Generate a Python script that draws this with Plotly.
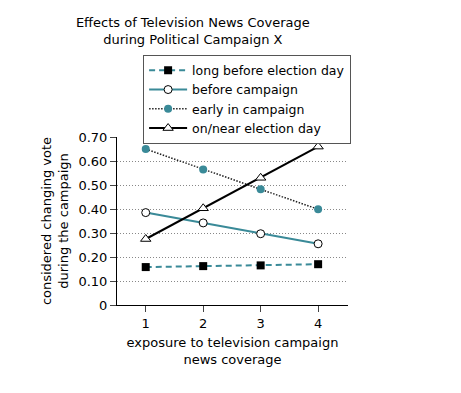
import plotly.graph_objects as go

exposure = [1, 2, 3, 4]
long_before = [0.158, 0.162, 0.165, 0.170]
before_campaign = [0.385, 0.342, 0.297, 0.255]
early_campaign = [0.650, 0.565, 0.482, 0.399]
near_election = [0.275, 0.403, 0.530, 0.660]
y_ticks = [0, 0.1, 0.2, 0.3, 0.4, 0.5, 0.6, 0.7]
y_tick_labels = ["0", "0.10", "0.20", "0.30", "0.40", "0.50", "0.60", "0.70"]

TEAL = "#3a8a98"
FONT = "DejaVu Sans"

fig = go.Figure()
fig.add_trace(go.Scatter(x=exposure, y=long_before, name="long before election day",
                         mode="lines+markers",
                         line=dict(color=TEAL, width=2, dash="6px,4px"),
                         marker=dict(symbol="square", size=8, color="black")))
fig.add_trace(go.Scatter(x=exposure, y=before_campaign, name="before campaign",
                         mode="lines+markers",
                         line=dict(color=TEAL, width=2),
                         marker=dict(symbol="circle", size=8, color="white",
                                     line=dict(color="black", width=1))))
fig.add_trace(go.Scatter(x=exposure, y=early_campaign, name="early in campaign",
                         mode="lines+markers",
                         line=dict(color="#222222", width=1.5, dash="1.5px,1.5px"),
                         marker=dict(symbol="circle", size=8, color=TEAL)))
fig.add_trace(go.Scatter(x=exposure, y=near_election, name="on/near election day",
                         mode="lines+markers",
                         line=dict(color="black", width=2),
                         marker=dict(symbol="triangle-up", size=9, color="white",
                                     line=dict(color="black", width=1))))

fig.update_layout(
    width=453, height=385,
    margin=dict(l=109, r=113, t=129, b=88),
    paper_bgcolor="white", plot_bgcolor="white",
    font=dict(family=FONT, size=12, color="black"),
    title=dict(text="Effects of Television News Coverage<br>during Political Campaign X",
               x=0.408, xanchor="center", y=0.95, yanchor="top",
               font=dict(size=13)),
    showlegend=True,
    legend=dict(x=0.113, xanchor="left", y=1.49, yanchor="top",
                bordercolor="#555555", borderwidth=1, bgcolor="white",
                font=dict(size=12.5), tracegroupgap=0, itemwidth=38),
    xaxis=dict(range=[0.5, 4.52], tickvals=exposure, ticks="outside", ticklen=6,
               showline=True, linecolor="black", linewidth=1, showgrid=False,
               zeroline=False, tickfont=dict(size=13),
               title=dict(text="exposure to television campaign<br>news coverage",
                          font=dict(size=13), standoff=8)),
    yaxis=dict(range=[0, 0.70], tickvals=y_ticks, ticktext=y_tick_labels,
               ticks="outside", ticklen=6, showline=True, linecolor="black",
               linewidth=1, showgrid=True, gridcolor="#888888", griddash="1px,2px",
               gridwidth=1, zeroline=False, tickfont=dict(size=13),
               title=dict(text="considered changing vote<br>during the campaign",
                          font=dict(size=13), standoff=6)),
)

fig.write_html("out.html")
